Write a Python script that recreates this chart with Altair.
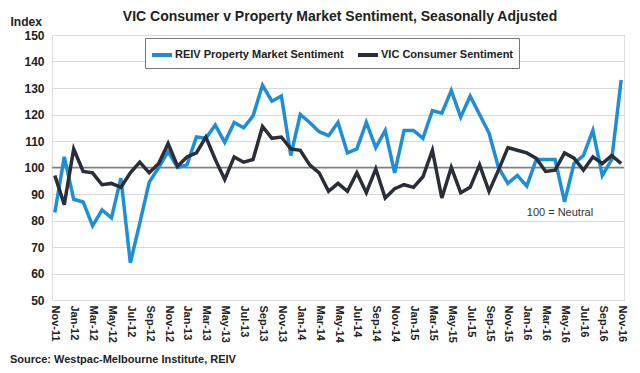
import altair as alt
import pandas as pd

months = [d.strftime("%b-%y") for d in pd.date_range("2011-11-01", "2016-11-01", freq="MS")]

reiv = [83, 104, 88, 87, 78, 84, 81, 96, 64, 79, 94.5, 100,
        106, 100, 101, 111.5, 111, 116, 109.5, 117, 115, 119.5, 131, 125,
        127, 104.5, 120, 117, 113.5, 112, 117, 105.5, 107, 117, 107.5, 114,
        98, 114, 114, 111, 121.5, 120.5, 129, 119, 127, 120, 113, 100,
        94, 97, 93, 103, 103, 103, 87, 101.5, 104.5, 114, 97, 103, 133]

vic = [97, 86, 107, 98.5, 98, 93.5, 94, 92.5, 98, 102, 98, 101.5,
       109, 100.5, 104, 105.5, 111.5, 103, 95.5, 104, 102, 103, 115.5, 111,
       111.5, 107, 106.5, 101, 98, 91, 94, 91, 98, 90.5, 99.5, 88.5,
       92, 93.5, 92.5, 96.5, 106.5, 88.5, 100, 90.5, 92.5, 101, 91, 99,
       107.5, 106.5, 105.5, 103.5, 98.5, 99, 105.5, 103.5, 99, 104, 101.5, 104.5, 101.5]

SERIES = ["REIV Property Market Sentiment", "VIC Consumer Sentiment"]
COLORS = ["#1e8fd6", "#2a2e38"]
y_ticks = list(range(50, 151, 10))
neutral = [100]
note_text = ["100 = Neutral"]
note_month = ["Jan-16"]
note_value = [83]
source = "Source:  Westpac-Melbourne Institute, REIV"
title = "VIC Consumer v Property Market Sentiment, Seasonally Adjusted"

FONT = "Liberation Sans"

df = pd.DataFrame({
    "month": months * 2,
    "value": reiv + vic,
    "series": [SERIES[0]] * len(months) + [SERIES[1]] * len(months),
})

x_enc = alt.X(
    "month:O", sort=months,
    scale=alt.Scale(type="point", padding=0.3),
    axis=alt.Axis(values=months[::2], labelAngle=90, title=None, ticks=False,
                  labelFontWeight="bold", labelFontSize=11, labelColor="#222",
                  labelPadding=5, domain=False, grid=False),
)
y_enc = alt.Y(
    "value:Q", scale=alt.Scale(domain=[50, 150], nice=False, zero=False),
    axis=alt.Axis(values=y_ticks, tickCount=11, labelOverlap=False,
                  title="Index", titleAngle=0, titleX=-42, titleY=-10,
                  titleAlign="left", titleBaseline="alphabetic", titleFontSize=12,
                  titleFontWeight="bold", titleColor="#222",
                  ticks=False, domain=False, labelFontWeight="bold", labelFontSize=12,
                  labelColor="#222", labelPadding=8, gridColor="#d9d9d9"),
)

rule = alt.Chart(pd.DataFrame({"value": neutral})).mark_rule(
    color="#7f7f7f", strokeWidth=1.5
).encode(y=y_enc)

lines = alt.Chart(df).mark_line(strokeWidth=3.5).encode(
    x=x_enc, y=y_enc,
    color=alt.Color(
        "series:N", sort=SERIES,
        scale=alt.Scale(domain=SERIES, range=COLORS),
        legend=alt.Legend(
            title=None, orient="none", legendX=93, legendY=3, direction="horizontal",
            symbolType="stroke", symbolSize=400, symbolStrokeWidth=4,
            labelFontSize=11, labelFontWeight="bold", labelColor="#222",
            strokeColor="#777", fillColor="white", padding=5, columnPadding=6,
            labelLimit=300, labelOffset=1,
        ),
    ),
)

note = alt.Chart(pd.DataFrame({"month": note_month, "value": note_value, "t": note_text})).mark_text(
    align="left", baseline="middle", fontSize=11, color="#333", font=FONT
).encode(x=alt.X("month:O", sort=months), y=y_enc, text="t:N")

src = alt.Chart(pd.DataFrame({"t": [source]})).mark_text(
    align="left", baseline="middle", fontSize=11, fontWeight="bold", color="#222", font=FONT
).encode(x=alt.value(-42), y=alt.value(325), text="t:N")

ttl = alt.Chart(pd.DataFrame({"t": [title]})).mark_text(
    align="center", baseline="middle", fontSize=14, fontWeight="bold", color="#222", font=FONT
).encode(x=alt.value(288), y=alt.value(-18), text="t:N")

chart = alt.layer(rule, lines, note, src, ttl).properties(
    width=572, height=265,
    padding={"left": 44, "top": 27, "right": 8, "bottom": 65},
    autosize=alt.AutoSizeParams(type="none"),
).configure_view(stroke="#888", strokeWidth=1).configure(font=FONT).configure_axis(
    labelFont=FONT, titleFont=FONT
).configure_legend(labelFont=FONT)

chart.save("out.html", embed_options={"renderer": "svg", "actions": False})
